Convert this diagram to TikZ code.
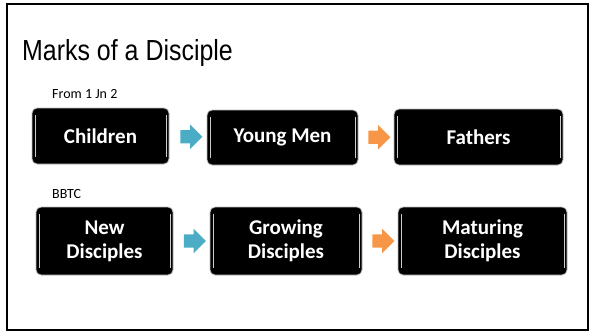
\documentclass[tikz,border=0pt]{standalone}
\usepackage{fontspec}
\setmainfont{Carlito}
\newfontfamily\titlefont{Liberation Sans}
\usepackage{graphicx}
\usepackage{tikz}
\usetikzlibrary{shapes.arrows,calc}
\definecolor{stepblue}{HTML}{4BACC6}
\definecolor{steporange}{HTML}{F79646}
\newcommand{\boxfont}{\fontsize{21}{24}\selectfont\bfseries}

\begin{document}
\begin{tikzpicture}[x=1pt,y=-1pt,
  stagebox/.style={rounded corners=5pt, fill=black, draw=gray!50, line width=0.8pt,
    text=white, font=\boxfont, align=center, inner sep=0pt,
    path picture={
      \draw[gray!40, line width=0.9pt]
        ([xshift=3pt,yshift=-7pt]path picture bounding box.north west) --
        ([xshift=3pt,yshift=7pt]path picture bounding box.south west);
      \draw[gray!40, line width=0.9pt]
        ([xshift=-3pt,yshift=-7pt]path picture bounding box.north east) --
        ([xshift=-3pt,yshift=7pt]path picture bounding box.south east);}},
  steparrow/.style={single arrow, draw=none, inner xsep=0pt, inner ysep=6.5pt,
    single arrow head extend=5.5pt, minimum height=22pt}]
\useasboundingbox (0,0) rectangle (591,333);
\draw[line width=2pt] (7,4) rectangle (588,330);

\node (title) at (22,60) [anchor=base west, inner sep=0pt]
  {\titlefont\fontsize{29}{32}\selectfont\scalebox{0.86}[1]{Marks of a Disciple}};
\node (src1) at (52,98) [anchor=base west, inner sep=0pt]
  {\fontsize{14}{16}\selectfont From 1 Jn 2};
\node (src2) at (52,198) [anchor=base west, inner sep=0pt]
  {\fontsize{14}{16}\selectfont BBTC};

% first row
\node (children) at (100.5,136) [stagebox, minimum width=137pt, minimum height=56pt] {Children};
\node (youngmen) at (282.5,137.5) [stagebox, minimum width=151pt, minimum height=55pt] {Young Men};
\node (fathers) at (478.5,137) [stagebox, minimum width=169pt, minimum height=56pt] {Fathers};
\node (arr1) at ($(children.east)!0.5!(youngmen.west)$) [steparrow, fill=stepblue] {};
\node (arr2) at ($(youngmen.east)!0.5!(fathers.west)$) [steparrow, fill=steporange] {};

% second row
\node (newdisc) at (104.5,241) [stagebox, minimum width=137pt, minimum height=68pt] {New\\Disciples};
\node (growdisc) at (286,241) [stagebox, minimum width=152pt, minimum height=68pt] {Growing\\Disciples};
\node (matdisc) at (482.5,241) [stagebox, minimum width=169pt, minimum height=68pt] {Maturing\\Disciples};
\node (arr3) at ($(newdisc.east)!0.5!(growdisc.west)$) [steparrow, fill=stepblue] {};
\node (arr4) at ($(growdisc.east)!0.5!(matdisc.west)$) [steparrow, fill=steporange] {};
\end{tikzpicture}
\end{document}
